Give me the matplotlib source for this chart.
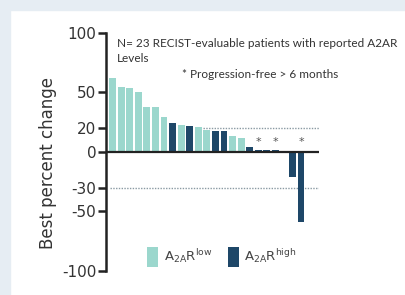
import matplotlib
matplotlib.use("Agg")
import matplotlib.pyplot as plt
from matplotlib.patches import Rectangle, Patch

# Data
values = [62, 54.5, 53.5, 50.5, 38, 37.5, 29.5, 24, 22.5, 21.5, 21, 18.5,
          17.5, 17.5, 13.5, 11.5, 4.5, 1.5, 1.5, 1.5, 1, -21, -58.5]
groups = ["low", "low", "low", "low", "low", "low", "low", "high", "low", "high",
          "low", "low", "high", "high", "low", "low", "high", "high", "high",
          "high", "high", "high", "high"]
pfs_star = [17, 19, 22]          # bar indices progression-free > 6 months
yticks = [100, 50, 20, 0, -30, -50, -100]
ref_lines = [20, -30]

LIGHT = "#9bd7cd"
DARK = "#1e4768"
colors = [LIGHT if g == "low" else DARK for g in groups]

W, H = 406, 295
fig = plt.figure(figsize=(W / 100, H / 100), dpi=100, facecolor="white")

# light border strips (left / top)
fig.patches.append(Rectangle((0, 0), 10 / W, 1, transform=fig.transFigure,
                             color="#e6edf3", zorder=0))
fig.patches.append(Rectangle((0, 1 - 10 / H), 1, 10 / H, transform=fig.transFigure,
                             color="#e6edf3", zorder=0))

ax = fig.add_axes([106 / W, 1 - 271 / H, (319 - 106) / W, (271 - 33) / H])
ax.set_facecolor("none")

x = list(range(len(values)))
ax.bar(x, values, width=0.8, color=colors, zorder=2)

ax.set_xlim(-0.78, 24.1)
ax.set_ylim(-100, 100)
ax.axhline(0, color="#222222", lw=1.6, zorder=3)

# dotted reference lines
ax.hlines(ref_lines[0], 10.5, 24.1, colors="#8a9aa3", linestyles=(0, (1, 1)), lw=1, zorder=1)
ax.hlines(ref_lines[1], -0.3, 24.1, colors="#8a9aa3", linestyles=(0, (1, 1)), lw=1, zorder=1)

for i in pfs_star:
    ax.text(i, 8.5, "*", ha="center", va="center", fontsize=8, color="#555555")

for s in ["top", "right", "bottom"]:
    ax.spines[s].set_visible(False)
ax.spines["left"].set_linewidth(1.8)
ax.spines["left"].set_color("#222222")
ax.set_xticks([])
ax.set_yticks(yticks)
ax.set_yticklabels([str(t) for t in yticks])
ax.tick_params(axis="y", length=6, width=1.8, color="#222222", labelsize=11,
               labelcolor="#333333", pad=1)
ax.set_ylabel("Best percent change", fontsize=12, color="#333333")
ax.yaxis.set_label_coords(-0.23, 0.455)

tf = dict(fontsize=8.5, color="#333333", family="Lato")
fig.text(117 / W, 1 - 47 / H, "N= 23 RECIST-evaluable patients with reported A2AR", **tf)
fig.text(117 / W, 1 - 62 / H, "Levels", **tf)
fig.text(182 / W, 1 - 78 / H, "* Progression-free > 6 months", **tf)

handles = [Patch(facecolor=LIGHT, edgecolor="none"), Patch(facecolor=DARK, edgecolor="none")]
labels = [r"$\mathregular{A_{2A}R^{low}}$", r"$\mathregular{A_{2A}R^{high}}$"]
fig.legend(handles, labels, loc="center", bbox_to_anchor=(222 / W, 1 - 257 / H),
           ncol=2, frameon=False, handlelength=0.85, handleheight=1.9,
           handletextpad=0.4, columnspacing=1.2, prop={"size": 9.5},
           labelcolor="#444444")

fig.savefig("out.png", dpi=100, facecolor="white")
